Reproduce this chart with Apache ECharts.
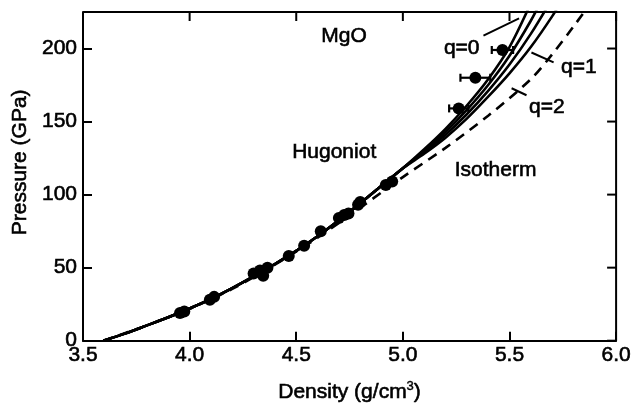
<!DOCTYPE html>
<html>
<head>
<meta charset="utf-8">
<script src="https://cdn.jsdelivr.net/npm/echarts@6/dist/echarts.min.js"></script>
<style>
  html, body { margin: 0; padding: 0; background: #fff; }
  #chart { width: 634px; height: 408px; }
</style>
</head>
<body>
<div id="chart"></div>
<script>
// density ticks
const xTicks = [3.5, 4.0, 4.5, 5.0, 5.5, 6.0];
const yTicks = [0, 50, 100, 150, 200];

// common low-pressure part of the Hugoniot curves
const hugShared = [[3.595, 0], [3.7, 5], [3.8, 10.5], [3.9, 16], [4.0, 22], [4.1, 28.6], [4.2, 36], [4.3, 44],
  [4.4, 52.5], [4.5, 61.5], [4.6, 71.5], [4.7, 82.5], [4.8, 94], [4.9, 106], [5.0, 118]];
// high-pressure branches
const hugA = [[5.1, 131], [5.2, 145], [5.3, 161], [5.4, 179], [5.5, 201], [5.6, 231]];
const hugB = [[5.1, 130], [5.2, 143], [5.3, 158], [5.4, 175], [5.5, 195], [5.6, 219], [5.65, 233]];
const hugC = [[5.1, 129], [5.2, 141], [5.3, 155], [5.4, 171], [5.5, 189], [5.6, 210], [5.7, 234]];
const hugD = [[5.1, 128], [5.2, 139], [5.3, 152], [5.4, 167], [5.5, 183], [5.6, 201], [5.7, 222], [5.75, 234]];

// isotherm (dashed)
const isotherm = [[3.595, 0], [3.8, 10.5], [4.0, 21.8], [4.2, 35.5], [4.4, 52], [4.6, 70.5], [4.8, 91], [5.0, 112],
  [5.2, 132], [5.4, 154], [5.6, 179], [5.7, 196], [5.8, 215], [5.9, 235]];

// shock data
const shockPts = [[3.955, 19], [3.975, 20], [4.095, 28], [4.115, 30], [4.30, 46], [4.33, 48], [4.345, 44.5],
  [4.365, 50], [4.465, 58], [4.537, 65], [4.615, 75], [4.70, 84], [4.725, 86], [4.745, 87], [4.79, 93],
  [4.80, 95], [4.92, 106.5], [4.95, 109]];
// points with horizontal error bars: [density, pressure, error]
const errPts = [[5.262, 159, 0.045], [5.34, 180, 0.07], [5.467, 199, 0.05]];

// text notes
const notes = [
  { name: 'MgO', value: [4.724, 208.5] },
  { name: 'Hugoniot', value: [4.678, 129] },
  { name: 'Isotherm', value: [5.435, 117] },
  { name: 'q=0', value: [5.276, 200.5] },
  { name: 'q=1', value: [5.825, 187] },
  { name: 'q=2', value: [5.675, 160] }
];
// arrows: [from, to]
const arrows = [
  [[5.378, 208.8], [5.545, 220.6]],
  [[5.707, 190.5], [5.603, 197.3]],
  [[5.58, 168], [5.51, 172.8]]
];

const font = '"Liberation Sans", Arial, Helvetica, sans-serif';
const txt = { color: '#000', fontFamily: font, fontSize: 21, textBorderColor: '#000', textBorderWidth: 0.6 };
const chart = echarts.init(document.getElementById('chart'), null, { renderer: 'canvas' });

const axisLine = () => ({ show: true, onZero: false, lineStyle: { color: '#000', width: 2 } });
const axisTick = () => ({ show: true, inside: true, length: 9, lineStyle: { color: '#000', width: 2 } });

const solid = (name, data) => ({
  name: name,
  type: 'line',
  data: data,
  smooth: 0.3,
  symbol: 'none',
  lineStyle: { color: '#000', width: 2.6 },
  clip: true,
  z: 3
});

const option = {
  backgroundColor: '#fff',
  animation: false,
  grid: { left: 83, right: 16, top: 12, bottom: 66 },
  xAxis: {
    type: 'value',
    min: 3.5, max: 6.0, interval: 0.5,
    name: 'Density (g/cm{sup|3})',
    nameLocation: 'middle',
    nameGap: 39,
    nameTextStyle: Object.assign({}, txt, {
      rich: { sup: Object.assign({}, txt, { fontSize: 13, verticalAlign: 'top', padding: [0, 0, 12, 0], textBorderWidth: 0.4 }) }
    }),
    axisLine: axisLine(),
    axisTick: axisTick(),
    splitLine: { show: false },
    axisLabel: Object.assign({}, txt, { margin: 4, formatter: v => v.toFixed(1) })
  },
  yAxis: {
    type: 'value',
    min: 0, max: 225, interval: 50,
    name: 'Pressure (GPa)',
    nameLocation: 'middle',
    nameGap: 46,
    nameTextStyle: Object.assign({}, txt, { padding: [0, 0, 0, 28] }),
    axisLine: axisLine(),
    axisTick: axisTick(),
    splitLine: { show: false },
    axisLabel: Object.assign({}, txt, {
      margin: 6, showMaxLabel: false,
      formatter: v => (yTicks.indexOf(v) >= 0 ? String(v) : '')
    })
  },
  series: [
    solid('q=0', hugShared.concat(hugA)),
    solid('hug B', hugShared.concat(hugB)),
    solid('q=1', hugShared.concat(hugC)),
    solid('q=2', hugShared.concat(hugD)),
    {
      name: 'Isotherm',
      type: 'line',
      data: isotherm,
      smooth: 0.3,
      symbol: 'none',
      clip: true,
      lineStyle: { color: '#000', width: 2.6, type: [10, 7] },
      z: 3
    },
    {
      name: 'data',
      type: 'scatter',
      data: shockPts.concat(errPts.map(p => [p[0], p[1]])),
      symbol: 'circle',
      symbolSize: 12,
      itemStyle: { color: '#000', opacity: 1 },
      z: 5
    },
    {
      name: 'errors',
      type: 'custom',
      data: errPts,
      renderItem: function (params, api) {
        const x = api.value(0), y = api.value(1), e = api.value(2);
        const l = api.coord([x - e, y]);
        const r = api.coord([x + e, y]);
        const st = { stroke: '#000', lineWidth: 2.2 };
        return {
          type: 'group',
          children: [
            { type: 'line', shape: { x1: l[0], y1: l[1], x2: r[0], y2: r[1] }, style: st },
            { type: 'line', shape: { x1: l[0], y1: l[1] - 4, x2: l[0], y2: l[1] + 4 }, style: st },
            { type: 'line', shape: { x1: r[0], y1: r[1] - 4, x2: r[0], y2: r[1] + 4 }, style: st }
          ]
        };
      },
      z: 4
    },
    {
      name: 'notes',
      type: 'scatter',
      data: notes,
      symbolSize: 0,
      itemStyle: { opacity: 1 },
      label: Object.assign({ show: true, position: 'inside', formatter: '{b}', opacity: 1 }, txt),
      markLine: {
        silent: true,
        symbol: ['none', 'arrow'],
        symbolSize: [0, 10],
        label: { show: false },
        lineStyle: { color: '#000', width: 2, type: 'solid', opacity: 1 },
        data: arrows.map(a => [{ coord: a[0] }, { coord: a[1] }])
      },
      z: 6
    }
  ]
};

chart.setOption(option);

// top and right frame edges with inward ticks, placed through the grid's own scales
const toPx = v => chart.convertToPixel({ gridIndex: 0 }, v);
const tl = toPx([xTicks[0], 225]);
const br = toPx([xTicks[xTicks.length - 1], 0]);
const frameStyle = { stroke: '#000', lineWidth: 2, fill: null };
const frame = [{
  type: 'polyline',
  z: 100,
  silent: true,
  shape: { points: [[tl[0], tl[1]], [br[0], tl[1]], [br[0], br[1]]] },
  style: frameStyle
}];
xTicks.forEach(x => {
  const p = toPx([x, 225]);
  frame.push({ type: 'line', z: 100, silent: true, shape: { x1: p[0], y1: tl[1], x2: p[0], y2: tl[1] + 9 }, style: frameStyle });
});
yTicks.forEach(y => {
  const p = toPx([6.0, y]);
  frame.push({ type: 'line', z: 100, silent: true, shape: { x1: br[0], y1: p[1], x2: br[0] - 9, y2: p[1] }, style: frameStyle });
});
chart.setOption({ graphic: frame });
</script>
</body>
</html>
